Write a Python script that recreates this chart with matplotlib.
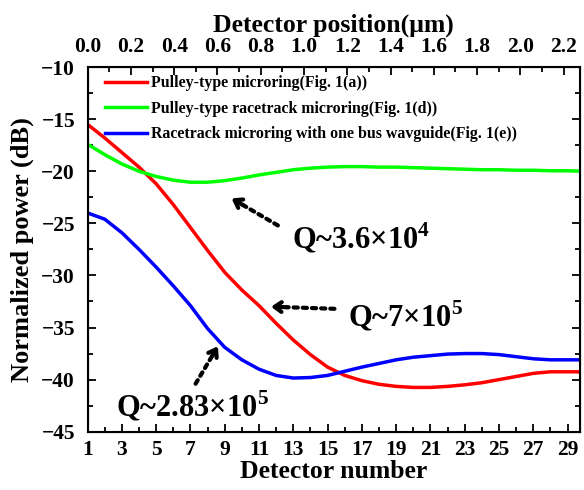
import numpy as np
import matplotlib
matplotlib.use('Agg')
import matplotlib.pyplot as plt
from matplotlib.ticker import MultipleLocator

plt.rcParams['font.family'] = 'Liberation Serif'
plt.rcParams['font.weight'] = 'bold'
plt.rcParams['mathtext.fontset'] = 'custom'
plt.rcParams['mathtext.rm'] = 'Liberation Serif:bold'
plt.rcParams['mathtext.bf'] = 'Liberation Serif:bold'

#### data ####
detector = np.arange(1, 31)
pulley_ring = [-15.5, -16.8, -18.2, -19.6, -21.2, -23.2, -25.4, -27.6, -29.7, -31.4,
               -32.9, -34.6, -36.2, -37.6, -38.8, -39.6, -40.1, -40.45, -40.65, -40.75,
               -40.75, -40.65, -40.5, -40.3, -40.0, -39.7, -39.4, -39.25, -39.25, -39.25]
pulley_race = [-17.4, -18.4, -19.3, -20.0, -20.5, -20.85, -21.05, -21.05, -20.9, -20.65,
               -20.35, -20.1, -19.85, -19.7, -19.6, -19.55, -19.55, -19.6, -19.6, -19.65,
               -19.7, -19.75, -19.8, -19.85, -19.85, -19.9, -19.9, -19.95, -19.95, -20.0]
race_bus = [-24.0, -24.6, -25.9, -27.5, -29.2, -31.0, -32.9, -35.1, -36.9, -38.1,
            -39.0, -39.6, -39.85, -39.8, -39.6, -39.2, -38.8, -38.45, -38.1, -37.85,
            -37.7, -37.55, -37.5, -37.5, -37.6, -37.8, -38.0, -38.1, -38.1, -38.1]
labels = ['Pulley-type microring(Fig. 1(a))',
          'Pulley-type racetrack microring(Fig. 1(d))',
          'Racetrack microring with one bus wavguide(Fig. 1(e))']
bottom_ticks = np.arange(1, 30, 2)
top_ticks = np.arange(0, 2.3, 0.2)

fig = plt.figure(figsize=(5.84, 4.90), dpi=100)
ax = fig.add_axes([0.150, 0.119, 0.843, 0.744])
ax.plot(detector, pulley_ring, color='#ff0000', lw=2.5, label=labels[0])
ax.plot(detector, pulley_race, color='#00ff00', lw=2.5, label=labels[1])
ax.plot(detector, race_bus, color='#0000ff', lw=2.5, label=labels[2])

ax.set_xlim(1, 29.72)
ax.set_ylim(-45, -10)
ax.set_xticks(bottom_ticks)
ax.xaxis.set_minor_locator(MultipleLocator(1))
ax.yaxis.set_major_locator(MultipleLocator(5))
ax.yaxis.set_minor_locator(MultipleLocator(2.5))
ax.tick_params(which='both', direction='in', right=True, width=1.3, labelsize=15.5)
ax.tick_params(axis='x', pad=6)
ax.tick_params(axis='y', pad=9)
ax.tick_params(which='major', length=6)
ax.tick_params(which='minor', length=3.5)
for s in ax.spines.values():
    s.set_linewidth(1.5)
ax.set_xlabel('Detector number', fontsize=18.5, fontweight='bold', labelpad=0)
ax.set_ylabel('Normalized power (dB)', fontsize=19, fontweight='bold', labelpad=5)

ax2 = ax.twiny()
ax2.set_xlim(0, 2.275)
ax2.set_xticks(top_ticks)
ax2.set_xticklabels(['%.1f' % t for t in top_ticks])
ax2.xaxis.set_minor_locator(MultipleLocator(0.1))
ax2.tick_params(which='both', direction='in', width=1.3, labelsize=15.5, pad=7.5)
ax2.tick_params(which='major', length=6)
ax2.tick_params(which='minor', length=3.5)
ax2.set_xlabel('Detector position(\u03bcm)', fontsize=18.5, fontweight='bold', labelpad=4)

ax.legend(loc='upper left', frameon=False, fontsize=11.4, handlelength=2.6,
          handletextpad=0.3, labelspacing=0.6, borderaxespad=0.1,
          bbox_to_anchor=(0.02, 1.0))

#### annotations ####
dots = dict(arrowstyle='-', linestyle=(0, (1, 1.2)), lw=3, color='black', shrinkA=0, shrinkB=0)
head = dict(arrowstyle='->,head_length=0.5,head_width=0.35', lw=3, color='black',
            shrinkA=0, shrinkB=0)

def arrow(tail, tip):
    tail = np.array(tail)
    tip = np.array(tip)
    mid = tip + (tail - tip) * 0.25
    ax.annotate('', xy=mid, xytext=tail, arrowprops=dots)
    ax.annotate('', xy=tip, xytext=mid, arrowprops=head)

arrow((12.1, -25.2), (9.4, -22.6))
arrow((15.4, -33.2), (11.7, -33.0))
arrow((7.3, -40.4), (8.6, -36.8))

ax.text(12.9, -27.4, 'Q~3.6\u00d710$^{4}$', fontsize=22, va='baseline', ha='left')
ax.text(16.2, -34.9, 'Q~7\u00d710$^{5}$', fontsize=22, va='baseline', ha='left')
ax.text(2.65, -43.55, 'Q~2.83\u00d710$^{5}$', fontsize=22, va='baseline', ha='left')

fig.savefig('out.png', dpi=100)
